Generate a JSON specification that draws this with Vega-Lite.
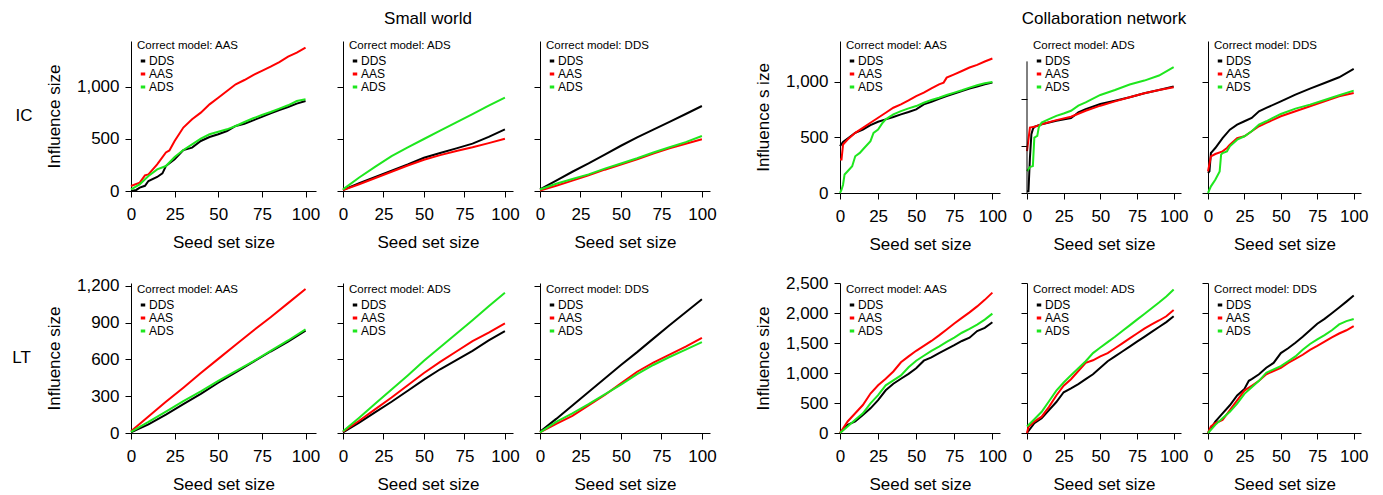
{
"$schema":"https://vega.github.io/schema/vega-lite/v6.json",
"padding":{"left":12,"top":10,"right":5,"bottom":5},
"data":{"values":[
{"p":1,"m":"DDS","x":0,"y":0},{"p":1,"m":"DDS","x":3,"y":10},{"p":1,"m":"DDS","x":5,"y":32},{"p":1,"m":"DDS","x":8,"y":50},{"p":1,"m":"DDS","x":10,"y":96},{"p":1,"m":"DDS","x":15,"y":135},{"p":1,"m":"DDS","x":18,"y":170},{"p":1,"m":"DDS","x":20,"y":240},{"p":1,"m":"DDS","x":25,"y":304},{"p":1,"m":"DDS","x":30,"y":394},{"p":1,"m":"DDS","x":35,"y":417},{"p":1,"m":"DDS","x":40,"y":481},{"p":1,"m":"DDS","x":45,"y":519},{"p":1,"m":"DDS","x":50,"y":545},{"p":1,"m":"DDS","x":55,"y":577},{"p":1,"m":"DDS","x":60,"y":625},{"p":1,"m":"DDS","x":65,"y":647},{"p":1,"m":"DDS","x":70,"y":679},{"p":1,"m":"DDS","x":75,"y":712},{"p":1,"m":"DDS","x":80,"y":747},{"p":1,"m":"DDS","x":85,"y":779},{"p":1,"m":"DDS","x":90,"y":808},{"p":1,"m":"DDS","x":95,"y":840},{"p":1,"m":"DDS","x":100,"y":865},
{"p":1,"m":"AAS","x":0,"y":48},{"p":1,"m":"AAS","x":5,"y":80},{"p":1,"m":"AAS","x":8,"y":150},{"p":1,"m":"AAS","x":10,"y":160},{"p":1,"m":"AAS","x":15,"y":256},{"p":1,"m":"AAS","x":20,"y":370},{"p":1,"m":"AAS","x":22,"y":390},{"p":1,"m":"AAS","x":25,"y":480},{"p":1,"m":"AAS","x":30,"y":610},{"p":1,"m":"AAS","x":35,"y":690},{"p":1,"m":"AAS","x":40,"y":753},{"p":1,"m":"AAS","x":45,"y":833},{"p":1,"m":"AAS","x":50,"y":897},{"p":1,"m":"AAS","x":55,"y":962},{"p":1,"m":"AAS","x":60,"y":1026},{"p":1,"m":"AAS","x":65,"y":1067},{"p":1,"m":"AAS","x":70,"y":1115},{"p":1,"m":"AAS","x":75,"y":1154},{"p":1,"m":"AAS","x":80,"y":1195},{"p":1,"m":"AAS","x":85,"y":1240},{"p":1,"m":"AAS","x":90,"y":1292},{"p":1,"m":"AAS","x":95,"y":1330},{"p":1,"m":"AAS","x":100,"y":1378},
{"p":1,"m":"ADS","x":0,"y":16},{"p":1,"m":"ADS","x":5,"y":64},{"p":1,"m":"ADS","x":10,"y":144},{"p":1,"m":"ADS","x":15,"y":208},{"p":1,"m":"ADS","x":20,"y":240},{"p":1,"m":"ADS","x":25,"y":327},{"p":1,"m":"ADS","x":30,"y":394},{"p":1,"m":"ADS","x":35,"y":449},{"p":1,"m":"ADS","x":40,"y":503},{"p":1,"m":"ADS","x":45,"y":545},{"p":1,"m":"ADS","x":50,"y":570},{"p":1,"m":"ADS","x":55,"y":593},{"p":1,"m":"ADS","x":60,"y":625},{"p":1,"m":"ADS","x":65,"y":663},{"p":1,"m":"ADS","x":70,"y":699},{"p":1,"m":"ADS","x":75,"y":731},{"p":1,"m":"ADS","x":80,"y":760},{"p":1,"m":"ADS","x":85,"y":792},{"p":1,"m":"ADS","x":90,"y":824},{"p":1,"m":"ADS","x":95,"y":865},{"p":1,"m":"ADS","x":100,"y":881},
{"p":2,"m":"DDS","x":0,"y":10},{"p":2,"m":"DDS","x":10,"y":75},{"p":2,"m":"DDS","x":20,"y":135},{"p":2,"m":"DDS","x":30,"y":195},{"p":2,"m":"DDS","x":40,"y":255},{"p":2,"m":"DDS","x":50,"y":320},{"p":2,"m":"DDS","x":60,"y":365},{"p":2,"m":"DDS","x":70,"y":410},{"p":2,"m":"DDS","x":80,"y":455},{"p":2,"m":"DDS","x":90,"y":520},{"p":2,"m":"DDS","x":100,"y":593},
{"p":2,"m":"AAS","x":0,"y":8},{"p":2,"m":"AAS","x":10,"y":65},{"p":2,"m":"AAS","x":20,"y":125},{"p":2,"m":"AAS","x":30,"y":185},{"p":2,"m":"AAS","x":40,"y":245},{"p":2,"m":"AAS","x":50,"y":300},{"p":2,"m":"AAS","x":60,"y":345},{"p":2,"m":"AAS","x":70,"y":385},{"p":2,"m":"AAS","x":80,"y":420},{"p":2,"m":"AAS","x":90,"y":460},{"p":2,"m":"AAS","x":100,"y":503},
{"p":2,"m":"ADS","x":0,"y":16},{"p":2,"m":"ADS","x":10,"y":130},{"p":2,"m":"ADS","x":20,"y":235},{"p":2,"m":"ADS","x":30,"y":335},{"p":2,"m":"ADS","x":40,"y":420},{"p":2,"m":"ADS","x":50,"y":500},{"p":2,"m":"ADS","x":60,"y":580},{"p":2,"m":"ADS","x":70,"y":660},{"p":2,"m":"ADS","x":80,"y":740},{"p":2,"m":"ADS","x":90,"y":820},{"p":2,"m":"ADS","x":100,"y":897},
{"p":3,"m":"DDS","x":0,"y":15},{"p":3,"m":"DDS","x":10,"y":100},{"p":3,"m":"DDS","x":20,"y":185},{"p":3,"m":"DDS","x":30,"y":265},{"p":3,"m":"DDS","x":40,"y":350},{"p":3,"m":"DDS","x":50,"y":435},{"p":3,"m":"DDS","x":60,"y":515},{"p":3,"m":"DDS","x":70,"y":590},{"p":3,"m":"DDS","x":80,"y":665},{"p":3,"m":"DDS","x":90,"y":740},{"p":3,"m":"DDS","x":100,"y":817},
{"p":3,"m":"AAS","x":0,"y":5},{"p":3,"m":"AAS","x":10,"y":50},{"p":3,"m":"AAS","x":20,"y":100},{"p":3,"m":"AAS","x":30,"y":150},{"p":3,"m":"AAS","x":40,"y":205},{"p":3,"m":"AAS","x":50,"y":255},{"p":3,"m":"AAS","x":60,"y":305},{"p":3,"m":"AAS","x":70,"y":360},{"p":3,"m":"AAS","x":80,"y":410},{"p":3,"m":"AAS","x":90,"y":455},{"p":3,"m":"AAS","x":100,"y":497},
{"p":3,"m":"ADS","x":0,"y":15},{"p":3,"m":"ADS","x":10,"y":70},{"p":3,"m":"ADS","x":20,"y":115},{"p":3,"m":"ADS","x":30,"y":160},{"p":3,"m":"ADS","x":40,"y":215},{"p":3,"m":"ADS","x":50,"y":265},{"p":3,"m":"ADS","x":60,"y":315},{"p":3,"m":"ADS","x":70,"y":370},{"p":3,"m":"ADS","x":80,"y":420},{"p":3,"m":"ADS","x":90,"y":470},{"p":3,"m":"ADS","x":100,"y":529},
{"p":4,"m":"DDS","x":0,"y":422},{"p":4,"m":"DDS","x":2,"y":460},{"p":4,"m":"DDS","x":5,"y":491},{"p":4,"m":"DDS","x":10,"y":542},{"p":4,"m":"DDS","x":15,"y":572},{"p":4,"m":"DDS","x":20,"y":611},{"p":4,"m":"DDS","x":25,"y":642},{"p":4,"m":"DDS","x":30,"y":663},{"p":4,"m":"DDS","x":35,"y":684},{"p":4,"m":"DDS","x":40,"y":708},{"p":4,"m":"DDS","x":45,"y":729},{"p":4,"m":"DDS","x":50,"y":753},{"p":4,"m":"DDS","x":55,"y":798},{"p":4,"m":"DDS","x":60,"y":822},{"p":4,"m":"DDS","x":65,"y":849},{"p":4,"m":"DDS","x":70,"y":873},{"p":4,"m":"DDS","x":75,"y":895},{"p":4,"m":"DDS","x":80,"y":919},{"p":4,"m":"DDS","x":85,"y":940},{"p":4,"m":"DDS","x":90,"y":958},{"p":4,"m":"DDS","x":95,"y":979},{"p":4,"m":"DDS","x":100,"y":994},
{"p":4,"m":"AAS","x":0,"y":301},{"p":4,"m":"AAS","x":1,"y":301},{"p":4,"m":"AAS","x":2,"y":437},{"p":4,"m":"AAS","x":5,"y":482},{"p":4,"m":"AAS","x":10,"y":542},{"p":4,"m":"AAS","x":15,"y":587},{"p":4,"m":"AAS","x":20,"y":633},{"p":4,"m":"AAS","x":25,"y":678},{"p":4,"m":"AAS","x":30,"y":723},{"p":4,"m":"AAS","x":35,"y":768},{"p":4,"m":"AAS","x":40,"y":798},{"p":4,"m":"AAS","x":45,"y":834},{"p":4,"m":"AAS","x":50,"y":873},{"p":4,"m":"AAS","x":55,"y":904},{"p":4,"m":"AAS","x":60,"y":943},{"p":4,"m":"AAS","x":65,"y":979},{"p":4,"m":"AAS","x":68,"y":994},{"p":4,"m":"AAS","x":70,"y":1039},{"p":4,"m":"AAS","x":75,"y":1069},{"p":4,"m":"AAS","x":80,"y":1099},{"p":4,"m":"AAS","x":85,"y":1130},{"p":4,"m":"AAS","x":90,"y":1154},{"p":4,"m":"AAS","x":95,"y":1184},{"p":4,"m":"AAS","x":100,"y":1211},
{"p":4,"m":"ADS","x":0,"y":0},{"p":4,"m":"ADS","x":1,"y":30},{"p":4,"m":"ADS","x":2,"y":75},{"p":4,"m":"ADS","x":3,"y":166},{"p":4,"m":"ADS","x":5,"y":196},{"p":4,"m":"ADS","x":8,"y":241},{"p":4,"m":"ADS","x":10,"y":331},{"p":4,"m":"ADS","x":13,"y":361},{"p":4,"m":"ADS","x":15,"y":392},{"p":4,"m":"ADS","x":20,"y":467},{"p":4,"m":"ADS","x":22,"y":542},{"p":4,"m":"ADS","x":25,"y":572},{"p":4,"m":"ADS","x":28,"y":633},{"p":4,"m":"ADS","x":30,"y":663},{"p":4,"m":"ADS","x":35,"y":708},{"p":4,"m":"ADS","x":40,"y":738},{"p":4,"m":"ADS","x":45,"y":762},{"p":4,"m":"ADS","x":50,"y":783},{"p":4,"m":"ADS","x":55,"y":813},{"p":4,"m":"ADS","x":60,"y":837},{"p":4,"m":"ADS","x":65,"y":858},{"p":4,"m":"ADS","x":70,"y":883},{"p":4,"m":"ADS","x":75,"y":904},{"p":4,"m":"ADS","x":80,"y":925},{"p":4,"m":"ADS","x":85,"y":949},{"p":4,"m":"ADS","x":90,"y":970},{"p":4,"m":"ADS","x":95,"y":988},{"p":4,"m":"ADS","x":100,"y":1000},
{"p":5,"m":"DDS","x":0,"y":18},{"p":5,"m":"DDS","x":1,"y":18},{"p":5,"m":"DDS","x":2,"y":375},{"p":5,"m":"DDS","x":3,"y":625},{"p":5,"m":"DDS","x":4,"y":679},{"p":5,"m":"DDS","x":5,"y":704},{"p":5,"m":"DDS","x":10,"y":732},{"p":5,"m":"DDS","x":20,"y":768},{"p":5,"m":"DDS","x":30,"y":796},{"p":5,"m":"DDS","x":35,"y":857},{"p":5,"m":"DDS","x":40,"y":893},{"p":5,"m":"DDS","x":50,"y":946},{"p":5,"m":"DDS","x":60,"y":982},{"p":5,"m":"DDS","x":70,"y":1018},{"p":5,"m":"DDS","x":80,"y":1061},{"p":5,"m":"DDS","x":90,"y":1096},{"p":5,"m":"DDS","x":100,"y":1132},
{"p":5,"m":"AAS","x":0,"y":446},{"p":5,"m":"AAS","x":2,"y":696},{"p":5,"m":"AAS","x":5,"y":704},{"p":5,"m":"AAS","x":10,"y":732},{"p":5,"m":"AAS","x":20,"y":775},{"p":5,"m":"AAS","x":30,"y":811},{"p":5,"m":"AAS","x":40,"y":875},{"p":5,"m":"AAS","x":50,"y":929},{"p":5,"m":"AAS","x":60,"y":975},{"p":5,"m":"AAS","x":70,"y":1018},{"p":5,"m":"AAS","x":80,"y":1061},{"p":5,"m":"AAS","x":90,"y":1096},{"p":5,"m":"AAS","x":100,"y":1125},
{"p":5,"m":"ADS","x":0,"y":232},{"p":5,"m":"ADS","x":2,"y":275},{"p":5,"m":"ADS","x":4,"y":286},{"p":5,"m":"ADS","x":5,"y":589},{"p":5,"m":"ADS","x":7,"y":607},{"p":5,"m":"ADS","x":8,"y":696},{"p":5,"m":"ADS","x":10,"y":750},{"p":5,"m":"ADS","x":15,"y":786},{"p":5,"m":"ADS","x":20,"y":821},{"p":5,"m":"ADS","x":25,"y":846},{"p":5,"m":"ADS","x":30,"y":875},{"p":5,"m":"ADS","x":35,"y":929},{"p":5,"m":"ADS","x":40,"y":964},{"p":5,"m":"ADS","x":50,"y":1043},{"p":5,"m":"ADS","x":60,"y":1096},{"p":5,"m":"ADS","x":70,"y":1154},{"p":5,"m":"ADS","x":80,"y":1196},{"p":5,"m":"ADS","x":90,"y":1250},{"p":5,"m":"ADS","x":100,"y":1339},
{"p":6,"m":"DDS","x":0,"y":180},{"p":6,"m":"DDS","x":1,"y":195},{"p":6,"m":"DDS","x":2,"y":360},{"p":6,"m":"DDS","x":3,"y":375},{"p":6,"m":"DDS","x":5,"y":405},{"p":6,"m":"DDS","x":10,"y":495},{"p":6,"m":"DDS","x":15,"y":570},{"p":6,"m":"DDS","x":20,"y":616},{"p":6,"m":"DDS","x":25,"y":646},{"p":6,"m":"DDS","x":30,"y":676},{"p":6,"m":"DDS","x":35,"y":736},{"p":6,"m":"DDS","x":40,"y":766},{"p":6,"m":"DDS","x":50,"y":826},{"p":6,"m":"DDS","x":60,"y":886},{"p":6,"m":"DDS","x":70,"y":940},{"p":6,"m":"DDS","x":80,"y":991},{"p":6,"m":"DDS","x":90,"y":1042},{"p":6,"m":"DDS","x":100,"y":1117},
{"p":6,"m":"AAS","x":0,"y":195},{"p":6,"m":"AAS","x":2,"y":330},{"p":6,"m":"AAS","x":5,"y":351},{"p":6,"m":"AAS","x":10,"y":375},{"p":6,"m":"AAS","x":13,"y":405},{"p":6,"m":"AAS","x":15,"y":435},{"p":6,"m":"AAS","x":20,"y":495},{"p":6,"m":"AAS","x":25,"y":511},{"p":6,"m":"AAS","x":30,"y":556},{"p":6,"m":"AAS","x":35,"y":601},{"p":6,"m":"AAS","x":40,"y":631},{"p":6,"m":"AAS","x":50,"y":691},{"p":6,"m":"AAS","x":60,"y":736},{"p":6,"m":"AAS","x":70,"y":781},{"p":6,"m":"AAS","x":80,"y":826},{"p":6,"m":"AAS","x":90,"y":871},{"p":6,"m":"AAS","x":100,"y":901},
{"p":6,"m":"ADS","x":0,"y":0},{"p":6,"m":"ADS","x":2,"y":60},{"p":6,"m":"ADS","x":5,"y":120},{"p":6,"m":"ADS","x":8,"y":195},{"p":6,"m":"ADS","x":9,"y":345},{"p":6,"m":"ADS","x":10,"y":360},{"p":6,"m":"ADS","x":13,"y":375},{"p":6,"m":"ADS","x":15,"y":420},{"p":6,"m":"ADS","x":20,"y":480},{"p":6,"m":"ADS","x":25,"y":511},{"p":6,"m":"ADS","x":30,"y":556},{"p":6,"m":"ADS","x":35,"y":616},{"p":6,"m":"ADS","x":40,"y":646},{"p":6,"m":"ADS","x":50,"y":712},{"p":6,"m":"ADS","x":60,"y":760},{"p":6,"m":"ADS","x":70,"y":796},{"p":6,"m":"ADS","x":80,"y":838},{"p":6,"m":"ADS","x":90,"y":880},{"p":6,"m":"ADS","x":100,"y":922},
{"p":7,"m":"DDS","x":0,"y":5},{"p":7,"m":"DDS","x":10,"y":70},{"p":7,"m":"DDS","x":20,"y":150},{"p":7,"m":"DDS","x":30,"y":235},{"p":7,"m":"DDS","x":40,"y":320},{"p":7,"m":"DDS","x":50,"y":410},{"p":7,"m":"DDS","x":60,"y":495},{"p":7,"m":"DDS","x":70,"y":580},{"p":7,"m":"DDS","x":80,"y":665},{"p":7,"m":"DDS","x":90,"y":745},{"p":7,"m":"DDS","x":100,"y":835},
{"p":7,"m":"AAS","x":0,"y":15},{"p":7,"m":"AAS","x":10,"y":135},{"p":7,"m":"AAS","x":20,"y":255},{"p":7,"m":"AAS","x":30,"y":370},{"p":7,"m":"AAS","x":40,"y":490},{"p":7,"m":"AAS","x":50,"y":605},{"p":7,"m":"AAS","x":60,"y":720},{"p":7,"m":"AAS","x":70,"y":835},{"p":7,"m":"AAS","x":80,"y":945},{"p":7,"m":"AAS","x":90,"y":1060},{"p":7,"m":"AAS","x":100,"y":1175},
{"p":7,"m":"ADS","x":0,"y":10},{"p":7,"m":"ADS","x":10,"y":90},{"p":7,"m":"ADS","x":20,"y":175},{"p":7,"m":"ADS","x":30,"y":260},{"p":7,"m":"ADS","x":40,"y":340},{"p":7,"m":"ADS","x":50,"y":425},{"p":7,"m":"ADS","x":60,"y":505},{"p":7,"m":"ADS","x":70,"y":585},{"p":7,"m":"ADS","x":80,"y":670},{"p":7,"m":"ADS","x":90,"y":755},{"p":7,"m":"ADS","x":100,"y":845},
{"p":8,"m":"DDS","x":0,"y":5},{"p":8,"m":"DDS","x":10,"y":85},{"p":8,"m":"DDS","x":20,"y":170},{"p":8,"m":"DDS","x":30,"y":255},{"p":8,"m":"DDS","x":40,"y":345},{"p":8,"m":"DDS","x":50,"y":435},{"p":8,"m":"DDS","x":60,"y":520},{"p":8,"m":"DDS","x":70,"y":595},{"p":8,"m":"DDS","x":80,"y":670},{"p":8,"m":"DDS","x":90,"y":755},{"p":8,"m":"DDS","x":100,"y":832},
{"p":8,"m":"AAS","x":0,"y":10},{"p":8,"m":"AAS","x":10,"y":100},{"p":8,"m":"AAS","x":20,"y":195},{"p":8,"m":"AAS","x":30,"y":290},{"p":8,"m":"AAS","x":40,"y":390},{"p":8,"m":"AAS","x":50,"y":490},{"p":8,"m":"AAS","x":60,"y":580},{"p":8,"m":"AAS","x":70,"y":665},{"p":8,"m":"AAS","x":80,"y":750},{"p":8,"m":"AAS","x":90,"y":820},{"p":8,"m":"AAS","x":100,"y":895},
{"p":8,"m":"ADS","x":0,"y":15},{"p":8,"m":"ADS","x":10,"y":125},{"p":8,"m":"ADS","x":20,"y":240},{"p":8,"m":"ADS","x":30,"y":355},{"p":8,"m":"ADS","x":40,"y":470},{"p":8,"m":"ADS","x":50,"y":590},{"p":8,"m":"ADS","x":60,"y":700},{"p":8,"m":"ADS","x":70,"y":810},{"p":8,"m":"ADS","x":80,"y":920},{"p":8,"m":"ADS","x":90,"y":1035},{"p":8,"m":"ADS","x":100,"y":1145},
{"p":9,"m":"DDS","x":0,"y":10},{"p":9,"m":"DDS","x":10,"y":115},{"p":9,"m":"DDS","x":20,"y":225},{"p":9,"m":"DDS","x":30,"y":335},{"p":9,"m":"DDS","x":40,"y":445},{"p":9,"m":"DDS","x":50,"y":555},{"p":9,"m":"DDS","x":60,"y":660},{"p":9,"m":"DDS","x":70,"y":770},{"p":9,"m":"DDS","x":80,"y":880},{"p":9,"m":"DDS","x":90,"y":985},{"p":9,"m":"DDS","x":100,"y":1091},
{"p":9,"m":"AAS","x":0,"y":5},{"p":9,"m":"AAS","x":10,"y":75},{"p":9,"m":"AAS","x":20,"y":140},{"p":9,"m":"AAS","x":30,"y":225},{"p":9,"m":"AAS","x":40,"y":310},{"p":9,"m":"AAS","x":50,"y":405},{"p":9,"m":"AAS","x":60,"y":500},{"p":9,"m":"AAS","x":70,"y":575},{"p":9,"m":"AAS","x":80,"y":640},{"p":9,"m":"AAS","x":90,"y":705},{"p":9,"m":"AAS","x":100,"y":777},
{"p":9,"m":"ADS","x":0,"y":5},{"p":9,"m":"ADS","x":10,"y":90},{"p":9,"m":"ADS","x":20,"y":160},{"p":9,"m":"ADS","x":30,"y":235},{"p":9,"m":"ADS","x":40,"y":315},{"p":9,"m":"ADS","x":50,"y":395},{"p":9,"m":"ADS","x":60,"y":480},{"p":9,"m":"ADS","x":70,"y":555},{"p":9,"m":"ADS","x":80,"y":620},{"p":9,"m":"ADS","x":90,"y":680},{"p":9,"m":"ADS","x":100,"y":742},
{"p":10,"m":"DDS","x":0,"y":0},{"p":10,"m":"DDS","x":5,"y":137},{"p":10,"m":"DDS","x":10,"y":192},{"p":10,"m":"DDS","x":15,"y":301},{"p":10,"m":"DDS","x":20,"y":411},{"p":10,"m":"DDS","x":25,"y":548},{"p":10,"m":"DDS","x":30,"y":712},{"p":10,"m":"DDS","x":35,"y":822},{"p":10,"m":"DDS","x":40,"y":904},{"p":10,"m":"DDS","x":45,"y":986},{"p":10,"m":"DDS","x":50,"y":1079},{"p":10,"m":"DDS","x":55,"y":1205},{"p":10,"m":"DDS","x":60,"y":1260},{"p":10,"m":"DDS","x":65,"y":1332},{"p":10,"m":"DDS","x":70,"y":1397},{"p":10,"m":"DDS","x":75,"y":1463},{"p":10,"m":"DDS","x":80,"y":1534},{"p":10,"m":"DDS","x":85,"y":1589},{"p":10,"m":"DDS","x":90,"y":1699},{"p":10,"m":"DDS","x":95,"y":1753},{"p":10,"m":"DDS","x":100,"y":1847},
{"p":10,"m":"AAS","x":0,"y":0},{"p":10,"m":"AAS","x":5,"y":192},{"p":10,"m":"AAS","x":10,"y":329},{"p":10,"m":"AAS","x":15,"y":466},{"p":10,"m":"AAS","x":20,"y":658},{"p":10,"m":"AAS","x":25,"y":795},{"p":10,"m":"AAS","x":30,"y":904},{"p":10,"m":"AAS","x":35,"y":1025},{"p":10,"m":"AAS","x":40,"y":1178},{"p":10,"m":"AAS","x":45,"y":1277},{"p":10,"m":"AAS","x":50,"y":1370},{"p":10,"m":"AAS","x":55,"y":1452},{"p":10,"m":"AAS","x":60,"y":1534},{"p":10,"m":"AAS","x":65,"y":1627},{"p":10,"m":"AAS","x":70,"y":1726},{"p":10,"m":"AAS","x":75,"y":1825},{"p":10,"m":"AAS","x":80,"y":1918},{"p":10,"m":"AAS","x":85,"y":2011},{"p":10,"m":"AAS","x":90,"y":2110},{"p":10,"m":"AAS","x":95,"y":2219},{"p":10,"m":"AAS","x":100,"y":2340},
{"p":10,"m":"ADS","x":0,"y":0},{"p":10,"m":"ADS","x":5,"y":110},{"p":10,"m":"ADS","x":10,"y":219},{"p":10,"m":"ADS","x":15,"y":329},{"p":10,"m":"ADS","x":20,"y":493},{"p":10,"m":"ADS","x":25,"y":630},{"p":10,"m":"ADS","x":30,"y":795},{"p":10,"m":"ADS","x":35,"y":877},{"p":10,"m":"ADS","x":40,"y":959},{"p":10,"m":"ADS","x":45,"y":1096},{"p":10,"m":"ADS","x":50,"y":1205},{"p":10,"m":"ADS","x":55,"y":1288},{"p":10,"m":"ADS","x":60,"y":1370},{"p":10,"m":"ADS","x":65,"y":1441},{"p":10,"m":"ADS","x":70,"y":1518},{"p":10,"m":"ADS","x":75,"y":1589},{"p":10,"m":"ADS","x":80,"y":1671},{"p":10,"m":"ADS","x":85,"y":1737},{"p":10,"m":"ADS","x":90,"y":1808},{"p":10,"m":"ADS","x":95,"y":1890},{"p":10,"m":"ADS","x":100,"y":1989},
{"p":11,"m":"DDS","x":0,"y":0},{"p":11,"m":"DDS","x":5,"y":163},{"p":11,"m":"DDS","x":10,"y":245},{"p":11,"m":"DDS","x":15,"y":380},{"p":11,"m":"DDS","x":20,"y":516},{"p":11,"m":"DDS","x":25,"y":679},{"p":11,"m":"DDS","x":30,"y":745},{"p":11,"m":"DDS","x":35,"y":815},{"p":11,"m":"DDS","x":40,"y":897},{"p":11,"m":"DDS","x":45,"y":978},{"p":11,"m":"DDS","x":50,"y":1087},{"p":11,"m":"DDS","x":55,"y":1196},{"p":11,"m":"DDS","x":60,"y":1277},{"p":11,"m":"DDS","x":65,"y":1359},{"p":11,"m":"DDS","x":70,"y":1440},{"p":11,"m":"DDS","x":75,"y":1522},{"p":11,"m":"DDS","x":80,"y":1603},{"p":11,"m":"DDS","x":85,"y":1685},{"p":11,"m":"DDS","x":90,"y":1766},{"p":11,"m":"DDS","x":95,"y":1848},{"p":11,"m":"DDS","x":100,"y":1946},
{"p":11,"m":"AAS","x":0,"y":0},{"p":11,"m":"AAS","x":1,"y":100},{"p":11,"m":"AAS","x":5,"y":190},{"p":11,"m":"AAS","x":10,"y":272},{"p":11,"m":"AAS","x":15,"y":435},{"p":11,"m":"AAS","x":20,"y":625},{"p":11,"m":"AAS","x":25,"y":788},{"p":11,"m":"AAS","x":30,"y":897},{"p":11,"m":"AAS","x":35,"y":1033},{"p":11,"m":"AAS","x":40,"y":1168},{"p":11,"m":"AAS","x":45,"y":1212},{"p":11,"m":"AAS","x":50,"y":1277},{"p":11,"m":"AAS","x":55,"y":1332},{"p":11,"m":"AAS","x":60,"y":1413},{"p":11,"m":"AAS","x":65,"y":1495},{"p":11,"m":"AAS","x":70,"y":1576},{"p":11,"m":"AAS","x":75,"y":1658},{"p":11,"m":"AAS","x":80,"y":1739},{"p":11,"m":"AAS","x":85,"y":1810},{"p":11,"m":"AAS","x":90,"y":1875},{"p":11,"m":"AAS","x":95,"y":1946},{"p":11,"m":"AAS","x":100,"y":2050},
{"p":11,"m":"ADS","x":0,"y":109},{"p":11,"m":"ADS","x":5,"y":230},{"p":11,"m":"ADS","x":10,"y":353},{"p":11,"m":"ADS","x":15,"y":530},{"p":11,"m":"ADS","x":20,"y":707},{"p":11,"m":"ADS","x":25,"y":842},{"p":11,"m":"ADS","x":30,"y":962},{"p":11,"m":"ADS","x":35,"y":1080},{"p":11,"m":"ADS","x":40,"y":1196},{"p":11,"m":"ADS","x":45,"y":1332},{"p":11,"m":"ADS","x":50,"y":1424},{"p":11,"m":"ADS","x":55,"y":1515},{"p":11,"m":"ADS","x":60,"y":1603},{"p":11,"m":"ADS","x":65,"y":1700},{"p":11,"m":"ADS","x":70,"y":1793},{"p":11,"m":"ADS","x":75,"y":1890},{"p":11,"m":"ADS","x":80,"y":1984},{"p":11,"m":"ADS","x":85,"y":2080},{"p":11,"m":"ADS","x":90,"y":2174},{"p":11,"m":"ADS","x":95,"y":2275},{"p":11,"m":"ADS","x":100,"y":2390},
{"p":12,"m":"DDS","x":0,"y":0},{"p":12,"m":"DDS","x":5,"y":190},{"p":12,"m":"DDS","x":10,"y":326},{"p":12,"m":"DDS","x":15,"y":462},{"p":12,"m":"DDS","x":20,"y":625},{"p":12,"m":"DDS","x":25,"y":734},{"p":12,"m":"DDS","x":28,"y":870},{"p":12,"m":"DDS","x":30,"y":897},{"p":12,"m":"DDS","x":35,"y":978},{"p":12,"m":"DDS","x":40,"y":1087},{"p":12,"m":"DDS","x":45,"y":1168},{"p":12,"m":"DDS","x":50,"y":1332},{"p":12,"m":"DDS","x":55,"y":1413},{"p":12,"m":"DDS","x":60,"y":1505},{"p":12,"m":"DDS","x":65,"y":1603},{"p":12,"m":"DDS","x":70,"y":1712},{"p":12,"m":"DDS","x":75,"y":1821},{"p":12,"m":"DDS","x":80,"y":1902},{"p":12,"m":"DDS","x":85,"y":1995},{"p":12,"m":"DDS","x":90,"y":2092},{"p":12,"m":"DDS","x":95,"y":2190},{"p":12,"m":"DDS","x":100,"y":2290},
{"p":12,"m":"AAS","x":0,"y":0},{"p":12,"m":"AAS","x":2,"y":109},{"p":12,"m":"AAS","x":5,"y":163},{"p":12,"m":"AAS","x":10,"y":217},{"p":12,"m":"AAS","x":15,"y":380},{"p":12,"m":"AAS","x":20,"y":543},{"p":12,"m":"AAS","x":25,"y":707},{"p":12,"m":"AAS","x":30,"y":788},{"p":12,"m":"AAS","x":35,"y":870},{"p":12,"m":"AAS","x":40,"y":978},{"p":12,"m":"AAS","x":45,"y":1033},{"p":12,"m":"AAS","x":50,"y":1087},{"p":12,"m":"AAS","x":55,"y":1168},{"p":12,"m":"AAS","x":60,"y":1234},{"p":12,"m":"AAS","x":65,"y":1304},{"p":12,"m":"AAS","x":70,"y":1386},{"p":12,"m":"AAS","x":75,"y":1451},{"p":12,"m":"AAS","x":80,"y":1522},{"p":12,"m":"AAS","x":85,"y":1592},{"p":12,"m":"AAS","x":90,"y":1658},{"p":12,"m":"AAS","x":95,"y":1712},{"p":12,"m":"AAS","x":100,"y":1780},
{"p":12,"m":"ADS","x":0,"y":0},{"p":12,"m":"ADS","x":2,"y":54},{"p":12,"m":"ADS","x":5,"y":136},{"p":12,"m":"ADS","x":10,"y":245},{"p":12,"m":"ADS","x":15,"y":353},{"p":12,"m":"ADS","x":20,"y":489},{"p":12,"m":"ADS","x":25,"y":652},{"p":12,"m":"ADS","x":30,"y":761},{"p":12,"m":"ADS","x":35,"y":870},{"p":12,"m":"ADS","x":40,"y":1005},{"p":12,"m":"ADS","x":45,"y":1060},{"p":12,"m":"ADS","x":50,"y":1114},{"p":12,"m":"ADS","x":55,"y":1196},{"p":12,"m":"ADS","x":60,"y":1277},{"p":12,"m":"ADS","x":65,"y":1386},{"p":12,"m":"ADS","x":70,"y":1484},{"p":12,"m":"ADS","x":75,"y":1560},{"p":12,"m":"ADS","x":80,"y":1630},{"p":12,"m":"ADS","x":85,"y":1712},{"p":12,"m":"ADS","x":90,"y":1810},{"p":12,"m":"ADS","x":95,"y":1864},{"p":12,"m":"ADS","x":100,"y":1900}
]},
"columns":7,
"align":"each",
"spacing":{"row":90,"column":27},
"bounds":"flush",
"resolve":{"scale":{"x":"independent","y":"independent","color":"independent"},"legend":{"color":"independent"}},
"concat":[
  {"width":185,"height":150,"title":{"text":"IC","orient":"left","anchor":"middle","frame":"group","angle":0,"align":"right","baseline":"middle","offset":-4,"fontSize":17},
   "transform":[{"filter":"datum.p==1"}],"mark":{"type":"line","strokeWidth":2},
   "encoding":{"x":{"field":"x","type":"quantitative","scale":{"domain":[0,106],"nice":false},"axis":{"values":[0,25,50,75,100],"title":"Seed set size"}},
   "y":{"field":"y","type":"quantitative","scale":{"domain":[0,1442],"nice":false},"axis":{"values":[0,500,1000],"format":",d","title":"Influence size"}},
   "color":{"field":"m","type":"nominal","scale":{"domain":["DDS","AAS","ADS"],"range":["#000000","#ff0000","#1ee61e"]},"legend":{"title":"Correct model: AAS","orient":"none","legendX":6,"legendY":-1}}}},
  {"width":170,"height":150,"title":{"text":"Small world","orient":"top","anchor":"middle","frame":"group","offset":12},
   "transform":[{"filter":"datum.p==2"}],"mark":{"type":"line","strokeWidth":2},
   "encoding":{"x":{"field":"x","type":"quantitative","scale":{"domain":[0,105],"nice":false},"axis":{"values":[0,25,50,75,100],"title":"Seed set size"}},
   "y":{"field":"y","type":"quantitative","scale":{"domain":[0,1442],"nice":false},"axis":{"values":[0,500,1000],"labels":false,"title":null}},
   "color":{"field":"m","type":"nominal","scale":{"domain":["DDS","AAS","ADS"],"range":["#000000","#ff0000","#1ee61e"]},"legend":{"title":"Correct model: ADS","orient":"none","legendX":6,"legendY":-1}}}},
  {"width":170,"height":150,
   "transform":[{"filter":"datum.p==3"}],"mark":{"type":"line","strokeWidth":2},
   "encoding":{"x":{"field":"x","type":"quantitative","scale":{"domain":[0,105],"nice":false},"axis":{"values":[0,25,50,75,100],"title":"Seed set size"}},
   "y":{"field":"y","type":"quantitative","scale":{"domain":[0,1442],"nice":false},"axis":{"values":[0,500,1000],"labels":false,"title":null}},
   "color":{"field":"m","type":"nominal","scale":{"domain":["DDS","AAS","ADS"],"range":["#000000","#ff0000","#1ee61e"]},"legend":{"title":"Correct model: DDS","orient":"none","legendX":6,"legendY":-1}}}},
  {"width":76,"height":150,"data":{"values":[]},"mark":"point"},
  {"width":160,"height":152,
   "transform":[{"filter":"datum.p==4"}],"mark":{"type":"line","strokeWidth":2},
   "encoding":{"x":{"field":"x","type":"quantitative","scale":{"domain":[0,105],"nice":false},"axis":{"values":[0,25,50,75,100],"title":"Seed set size"}},
   "y":{"field":"y","type":"quantitative","scale":{"domain":[0,1369],"nice":false},"axis":{"values":[0,500,1000],"format":",d","title":"Influence s ize"}},
   "color":{"field":"m","type":"nominal","scale":{"domain":["DDS","AAS","ADS"],"range":["#000000","#ff0000","#1ee61e"]},"legend":{"title":"Correct model: AAS","orient":"none","legendX":6,"legendY":-1}}}},
  {"width":154,"height":152,"title":{"text":"Collaboration network","orient":"top","anchor":"middle","frame":"group","offset":12},
   "layer":[
   {"transform":[{"filter":"datum.p==5"}],"mark":{"type":"line","strokeWidth":2},
    "encoding":{"x":{"field":"x","type":"quantitative","scale":{"domain":[0,105],"nice":false},"axis":{"values":[0,25,50,75,100],"title":"Seed set size"}},
    "y":{"field":"y","type":"quantitative","scale":{"domain":[0,1617],"nice":false},"axis":{"values":[0,500,1000],"labels":false,"title":null,"domain":false}},
    "color":{"field":"m","type":"nominal","scale":{"domain":["DDS","AAS","ADS"],"range":["#000000","#ff0000","#1ee61e"]},"legend":{"title":"Correct model: ADS","orient":"none","legendX":6,"legendY":-1}}}},
   {"data":{"values":[{}]},"mark":{"type":"rule","color":"#000000","strokeWidth":1},
    "encoding":{"x":{"datum":0,"type":"quantitative","axis":{"values":[0,25,50,75,100],"title":"Seed set size"}},"y":{"datum":0,"type":"quantitative","axis":{"values":[0,500,1000],"labels":false,"title":null,"domain":false}},"y2":{"datum":1400}}}
   ]},
  {"width":153,"height":152,
   "transform":[{"filter":"datum.p==6"}],"mark":{"type":"line","strokeWidth":2},
   "encoding":{"x":{"field":"x","type":"quantitative","scale":{"domain":[0,105],"nice":false},"axis":{"values":[0,25,50,75,100],"title":"Seed set size"}},
   "y":{"field":"y","type":"quantitative","scale":{"domain":[0,1369],"nice":false},"axis":{"values":[0,500,1000],"labels":false,"title":null}},
   "color":{"field":"m","type":"nominal","scale":{"domain":["DDS","AAS","ADS"],"range":["#000000","#ff0000","#1ee61e"]},"legend":{"title":"Correct model: DDS","orient":"none","legendX":6,"legendY":-1}}}},
  {"width":185,"height":150,"title":{"text":"LT","orient":"left","anchor":"middle","frame":"group","angle":0,"align":"right","baseline":"middle","offset":-4,"fontSize":17},
   "transform":[{"filter":"datum.p==7"}],"mark":{"type":"line","strokeWidth":2},
   "encoding":{"x":{"field":"x","type":"quantitative","scale":{"domain":[0,106],"nice":false},"axis":{"values":[0,25,50,75,100],"title":"Seed set size"}},
   "y":{"field":"y","type":"quantitative","scale":{"domain":[0,1224],"nice":false},"axis":{"values":[0,300,600,900,1200],"format":",d","title":"Influence size"}},
   "color":{"field":"m","type":"nominal","scale":{"domain":["DDS","AAS","ADS"],"range":["#000000","#ff0000","#1ee61e"]},"legend":{"title":"Correct model: AAS","orient":"none","legendX":6,"legendY":1}}}},
  {"width":170,"height":150,
   "transform":[{"filter":"datum.p==8"}],"mark":{"type":"line","strokeWidth":2},
   "encoding":{"x":{"field":"x","type":"quantitative","scale":{"domain":[0,105],"nice":false},"axis":{"values":[0,25,50,75,100],"title":"Seed set size"}},
   "y":{"field":"y","type":"quantitative","scale":{"domain":[0,1224],"nice":false},"axis":{"values":[0,300,600,900,1200],"labels":false,"title":null}},
   "color":{"field":"m","type":"nominal","scale":{"domain":["DDS","AAS","ADS"],"range":["#000000","#ff0000","#1ee61e"]},"legend":{"title":"Correct model: ADS","orient":"none","legendX":6,"legendY":1}}}},
  {"width":170,"height":150,
   "transform":[{"filter":"datum.p==9"}],"mark":{"type":"line","strokeWidth":2},
   "encoding":{"x":{"field":"x","type":"quantitative","scale":{"domain":[0,105],"nice":false},"axis":{"values":[0,25,50,75,100],"title":"Seed set size"}},
   "y":{"field":"y","type":"quantitative","scale":{"domain":[0,1224],"nice":false},"axis":{"values":[0,300,600,900,1200],"labels":false,"title":null}},
   "color":{"field":"m","type":"nominal","scale":{"domain":["DDS","AAS","ADS"],"range":["#000000","#ff0000","#1ee61e"]},"legend":{"title":"Correct model: DDS","orient":"none","legendX":6,"legendY":1}}}},
  {"width":76,"height":150,"data":{"values":[]},"mark":"point"},
  {"width":160,"height":150,
   "transform":[{"filter":"datum.p==10"}],"mark":{"type":"line","strokeWidth":2},
   "encoding":{"x":{"field":"x","type":"quantitative","scale":{"domain":[0,105],"nice":false},"axis":{"values":[0,25,50,75,100],"title":"Seed set size"}},
   "y":{"field":"y","type":"quantitative","scale":{"domain":[0,2500],"nice":false},"axis":{"values":[0,500,1000,1500,2000,2500],"format":",d","title":"Influence size"}},
   "color":{"field":"m","type":"nominal","scale":{"domain":["DDS","AAS","ADS"],"range":["#000000","#ff0000","#1ee61e"]},"legend":{"title":"Correct model: AAS","orient":"none","legendX":6,"legendY":1}}}},
  {"width":154,"height":150,
   "transform":[{"filter":"datum.p==11"}],"mark":{"type":"line","strokeWidth":2},
   "encoding":{"x":{"field":"x","type":"quantitative","scale":{"domain":[0,105],"nice":false},"axis":{"values":[0,25,50,75,100],"title":"Seed set size"}},
   "y":{"field":"y","type":"quantitative","scale":{"domain":[0,2500],"nice":false},"axis":{"values":[0,500,1000,1500,2000,2500],"labels":false,"title":null}},
   "color":{"field":"m","type":"nominal","scale":{"domain":["DDS","AAS","ADS"],"range":["#000000","#ff0000","#1ee61e"]},"legend":{"title":"Correct model: ADS","orient":"none","legendX":6,"legendY":1}}}},
  {"width":153,"height":150,
   "transform":[{"filter":"datum.p==12"}],"mark":{"type":"line","strokeWidth":2},
   "encoding":{"x":{"field":"x","type":"quantitative","scale":{"domain":[0,105],"nice":false},"axis":{"values":[0,25,50,75,100],"title":"Seed set size"}},
   "y":{"field":"y","type":"quantitative","scale":{"domain":[0,2500],"nice":false},"axis":{"values":[0,500,1000,1500,2000,2500],"labels":false,"title":null}},
   "color":{"field":"m","type":"nominal","scale":{"domain":["DDS","AAS","ADS"],"range":["#000000","#ff0000","#1ee61e"]},"legend":{"title":"Correct model: DDS","orient":"none","legendX":6,"legendY":1}}}}
],
"config":{
 "font":"Liberation Sans",
 "background":"#ffffff",
 "view":{"stroke":null},
 "axis":{"domainColor":"#000000","tickColor":"#000000","labelColor":"#000000","titleColor":"#000000","labelFontSize":17,"titleFontSize":17,"titleFontWeight":"normal","grid":false,"tickSize":6,"domainWidth":1,"tickWidth":1,"labelFlush":false,"labelOverlap":false},
 "axisX":{"labelPadding":9,"titlePadding":12},
 "axisY":{"labelPadding":6,"titlePadding":13},
 "legend":{"titleFontSize":11.5,"titleFontWeight":"normal","labelFontSize":12,"symbolType":"stroke","symbolStrokeWidth":3,"symbolSize":20,"rowPadding":1,"titlePadding":3.5,"padding":0,"labelOffset":0,"titleColor":"#000000","labelColor":"#000000"},
 "title":{"fontSize":17,"fontWeight":"normal","color":"#000000"}
}
}
